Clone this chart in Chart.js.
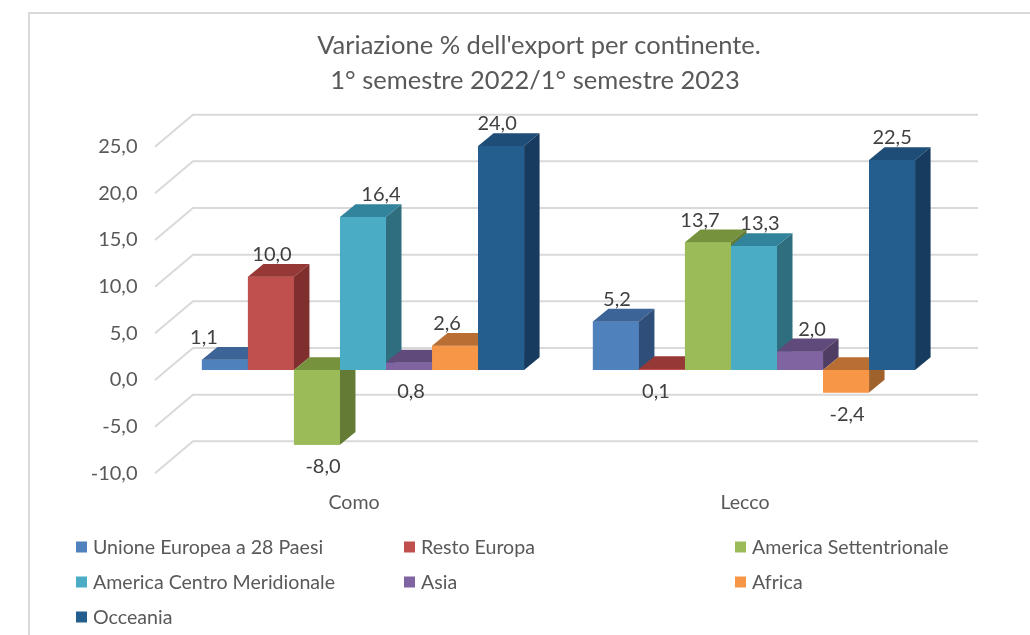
<!DOCTYPE html>
<html>
<head>
<meta charset="utf-8">
<script src="https://cdn.jsdelivr.net/npm/chart.js@4.4.0/dist/chart.umd.min.js"></script>
<style>
  html, body { margin: 0; padding: 0; background: #fff; }
  #wrap { position: relative; width: 1030px; height: 635px; }
</style>
</head>
<body>
<div id="wrap"><canvas id="chart" width="1030" height="635"></canvas></div>
<script>
// dati (variazione % export, 1° sem 2022 / 1° sem 2023)
const categories = ['Como', 'Lecco'];
const seriesNames = ['Unione Europea a 28 Paesi', 'Resto Europa', 'America Settentrionale',
  'America Centro Meridionale', 'Asia', 'Africa', 'Occeania'];
const ueValues = [1.1, 5.2];
const restoEuropaValues = [10.0, 0.1];
const americaNordValues = [-8.0, 13.7];
const americaSudValues = [16.4, 13.3];
const asiaValues = [0.8, 2.0];
const africaValues = [2.6, -2.4];
const oceaniaValues = [24.0, 22.5];
const yTicks = [-10, -5, 0, 5, 10, 15, 20, 25];

// colori: facciata, faccia superiore, fianco
const frontColors = ['#4F81BD', '#C0504D', '#9BBB59', '#4BACC6', '#8064A2', '#F79646', '#245E8F'];
const topColors   = ['#3C6496', '#963835', '#76923C', '#31849B', '#604A7B', '#B96F33', '#1E4D78'];
const sideColors  = ['#2F4F7A', '#7F302E', '#637B35', '#2E6E7F', '#4F3D63', '#A0622D', '#163B5E'];
// spostamento orizzontale delle etichette (Excel le sposta per evitare sovrapposizioni)
const labelNudge = [[-21, 1], [1, -6], [6, -8], [18, 6], [2, 12], [-8, 1], [-4, 0]];

const TEXT = '#595959';
const FONT = 'Lato';
const DEPTH = { dx: 15.5, dy: 12.7 };

const fmt = v => Number(v).toFixed(1).replace('.', ',');

function poly(ctx, pts, color) {
  ctx.beginPath();
  ctx.moveTo(pts[0][0], pts[0][1]);
  for (let i = 1; i < pts.length; i++) ctx.lineTo(pts[i][0], pts[i][1]);
  ctx.closePath();
  ctx.fillStyle = color;
  ctx.fill();
}

// bordo, titolo e legenda
const frame = {
  id: 'frame',
  beforeDraw(chart) {
    const ctx = chart.ctx;
    ctx.save();
    ctx.strokeStyle = '#d9d9d9';
    ctx.lineWidth = 2;
    ctx.beginPath();
    ctx.moveTo(29, 635);
    ctx.lineTo(29, 13);
    ctx.lineTo(1030, 13);
    ctx.stroke();

    ctx.fillStyle = TEXT;
    ctx.font = '25.5px ' + FONT;
    ctx.textAlign = 'center';
    ctx.textBaseline = 'middle';
    ctx.fillText("Variazione % dell'export per continente.", 539, 46);
    ctx.fillText('1° semestre 2022/1° semestre 2023', 535, 81);
    ctx.restore();
  },
  afterDraw(chart) {
    const ctx = chart.ctx;
    const colX = [76, 404, 735];
    const rowY = [547, 582, 617];
    ctx.save();
    ctx.font = '19.6px ' + FONT;
    ctx.textAlign = 'left';
    ctx.textBaseline = 'middle';
    chart.data.datasets.forEach((ds, i) => {
      const x = colX[i % 3], y = rowY[Math.floor(i / 3)];
      ctx.fillStyle = ds.backgroundColor;
      ctx.fillRect(x, y - 5.5, 11, 11);
      ctx.fillStyle = TEXT;
      ctx.fillText(ds.label, x + 17, y + 1);
    });
    ctx.restore();
  }
};

// griglia sulla parete di fondo + linee oblique verso le etichette
const grid3d = {
  id: 'grid3d',
  beforeDatasetsDraw(chart) {
    const { ctx, chartArea: a, scales: { y } } = chart;
    ctx.save();
    ctx.strokeStyle = '#d9d9d9';
    ctx.lineWidth = 2;
    yTicks.forEach(v => {
      const p = y.getPixelForValue(v);
      ctx.beginPath();
      ctx.moveTo(a.left - 12.5, p + 10);
      ctx.lineTo(a.left + 25.5, p - 22);
      ctx.lineTo(a.right + 28.5, p - 22);
      ctx.stroke();
    });
    ctx.restore();
  }
};

// colonne 3D: ridisegna le facciate in ordine e aggiunge cima e fianco
const bars3d = {
  id: 'bars3d',
  afterDatasetsDraw(chart) {
    const ctx = chart.ctx;
    ctx.save();
    chart.data.datasets.forEach((ds, i) => {
      chart.getDatasetMeta(i).data.forEach(bar => {
        bar.draw(ctx);
        const { x, y, base, width } = bar.getProps(['x', 'y', 'base', 'width'], true);
        const l = x - width / 2, r = x + width / 2;
        const top = Math.min(y, base), bot = Math.max(y, base);
        poly(ctx, [[l, top], [r, top], [r + DEPTH.dx, top - DEPTH.dy], [l + DEPTH.dx, top - DEPTH.dy]], topColors[i]);
        poly(ctx, [[r, top], [r + DEPTH.dx, top - DEPTH.dy], [r + DEPTH.dx, bot - DEPTH.dy], [r, bot]], sideColors[i]);
      });
    });

    // etichette dei valori
    ctx.font = '20px ' + FONT;
    ctx.fillStyle = '#404040';
    ctx.textAlign = 'center';
    ctx.textBaseline = 'middle';
    chart.data.datasets.forEach((ds, i) => {
      chart.getDatasetMeta(i).data.forEach((bar, j) => {
        const v = ds.data[j];
        const { x, y, base } = bar.getProps(['x', 'y', 'base'], true);
        const tx = x + labelNudge[i][j];
        const ty = v >= 1 ? Math.min(y, base) - 22 : Math.max(y, base) + 22;
        ctx.fillText(fmt(v), tx, ty);
      });
    });
    ctx.restore();
  }
};

const allValues = [ueValues, restoEuropaValues, americaNordValues, americaSudValues,
  asiaValues, africaValues, oceaniaValues];

const ctx = document.getElementById('chart').getContext('2d');
new Chart(ctx, {
  type: 'bar',
  data: {
    labels: categories,
    datasets: allValues.map((vals, i) => ({
      label: seriesNames[i],
      data: vals,
      backgroundColor: frontColors[i],
      borderWidth: 0,
      barPercentage: 1,
      categoryPercentage: 0.824
    }))
  },
  options: {
    responsive: false,
    animation: false,
    layout: { padding: { left: 30, top: 136.7, right: 80.5, bottom: 91.7 } },
    plugins: {
      legend: { display: false },
      title: { display: false },
      tooltip: { enabled: false }
    },
    scales: {
      x: {
        grid: { display: false, drawTicks: false },
        border: { display: false },
        ticks: { color: TEXT, font: { family: FONT, size: 19.6 }, padding: 28, labelOffset: -9 },
        afterFit: s => { s.height = 80; }
      },
      y: {
        min: -10,
        max: 25,
        afterBuildTicks: s => { s.ticks = yTicks.map(v => ({ value: v })); },
        grid: { display: false, drawTicks: false },
        border: { display: false },
        ticks: {
          color: TEXT,
          font: { family: FONT, size: 20 },
          padding: 30,
          labelOffset: 10,
          callback: v => fmt(v)
        },
        afterFit: s => { s.width = 137.5; }
      }
    }
  },
  plugins: [frame, grid3d, bars3d]
});
</script>
</body>
</html>
